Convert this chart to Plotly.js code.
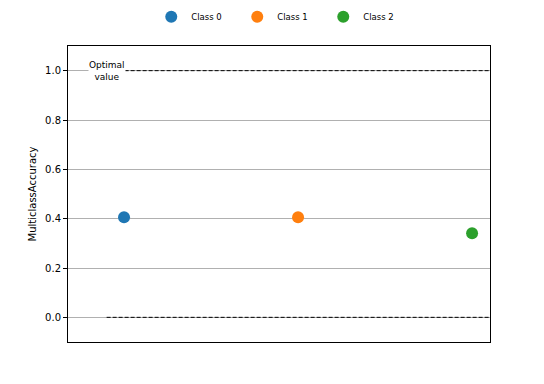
<!DOCTYPE html>
<html>
<head>
<meta charset="utf-8">
<script src="https://cdn.plot.ly/plotly-3.0.1.min.js"></script>
<style>html,body{margin:0;padding:0;background:#fff;}#chart{width:544px;height:384px;}</style>
</head>
<body>
<div id="chart"></div>
<script>
const classNames = ["Class 0", "Class 1", "Class 2"];
const classIndex = [0, 1, 2];
const accuracy = [0.406, 0.406, 0.341];
const colors = ["#1f77b4", "#ff7f0e", "#2ca02c"];
const optimalValue = 1.0;
const worstValue = 0.0;
const yTicks = [0.0, 0.2, 0.4, 0.6, 0.8, 1.0];

const font = "DejaVu Sans, sans-serif";
const traces = classNames.map((n, i) => ({
  type: "scatter", mode: "markers", name: n,
  x: [classIndex[i]], y: [accuracy[i]],
  marker: {color: colors[i], size: 12},
  hoverinfo: "skip"
}));
const xr = [-0.322, 2.103];
const layout = {
  width: 544, height: 384,
  margin: {l: 68, r: 54, t: 46, b: 42},
  paper_bgcolor: "#fff", plot_bgcolor: "#fff",
  font: {family: font, size: 10, color: "#000"},
  showlegend: true,
  legend: {orientation: "h", x: 0.503, xanchor: "center", y: 0.994, yref: "container", yanchor: "top",
    font: {size: 8.5}, itemwidth: 30, entrywidth: 41, entrywidthmode: "pixels", tracegroupgap: 0},
  xaxis: {range: xr, showticklabels: false, ticks: "", showgrid: false, zeroline: false,
    showline: true, linecolor: "#000", linewidth: 1, mirror: true},
  yaxis: {range: [-0.1, 1.1], tickvals: yTicks, ticktext: yTicks.map(v => v.toFixed(1)),
    ticks: "outside", ticklen: 4, tickcolor: "#000", showgrid: true, gridcolor: "#b0b0b0", gridwidth: 1,
    zeroline: false, showline: true, linecolor: "#000", linewidth: 1, mirror: true,
    title: {text: "MulticlassAccuracy", font: {size: 10}, standoff: 6}},
  shapes: [
    {type: "line", xref: "x", yref: "y", x0: -0.1, x1: xr[1], y0: optimalValue, y1: optimalValue,
      line: {color: "#000", width: 1, dash: "4px,2px"}, layer: "above"},
    {type: "line", xref: "x", yref: "y", x0: -0.1, x1: xr[1], y0: worstValue, y1: worstValue,
      line: {color: "#000", width: 1, dash: "4px,2px"}, layer: "above"}
  ],
  annotations: [
    {xref: "x", yref: "y", x: -0.1, y: optimalValue, text: "Optimal<br>value", showarrow: false,
      font: {size: 9, family: font}, bgcolor: "#fff", align: "center", borderpad: 0}
  ]
};
Plotly.newPlot("chart", traces, layout, {displayModeBar: false, staticPlot: true});
</script>
</body>
</html>
